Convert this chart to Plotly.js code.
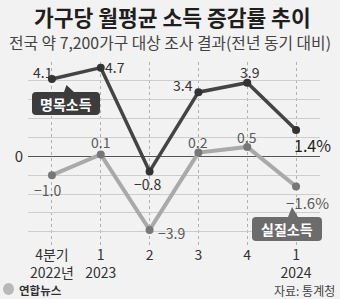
<!DOCTYPE html>
<html>
<head>
<meta charset="utf-8">
<script src="https://cdn.plot.ly/plotly-3.0.1.min.js"></script>
<style>
html,body{margin:0;padding:0;background:#f2f2f2;}
#chart{width:340px;height:299px;}
</style>
</head>
<body>
<div id="chart"></div>
<script>
// ---- data ----
const categories = ['4분기<br>2022년', '1<br>2023', '2', '3', '4', '1<br>2024'];
const xPositions = [0, 1, 2, 3, 4, 5];
const nominalIncome = [4.1, 4.7, -0.8, 3.4, 3.9, 1.4];
const realIncome = [-1.0, 0.1, -3.9, 0.2, 0.5, -1.6];
const yTickValues = [-4, -3, -2, -1, 0, 1, 2, 3, 4, 5];
const yTickLabels = ['', '', '', '', '0', '', '', '', '', ''];
const seriesNames = ['명목소득', '실질소득'];
const titleText = '가구당 월평균 소득 증감률 추이';
const subtitleText = '전국 약 7,200가구 대상 조사 결과(전년 동기 대비)';
const sourceText = '자료: 통계청';
const creditText = '연합뉴스';

// ---- layout helpers ----
const L = 28, R = 320, T = 62, B = 245;
const W = 340, H = 299;
const px = x => (x - L) / (R - L);
const py = y => (B - y) / (B - T);

function fmt(v, last) {
  const s = (v < 0 ? '\u2212' : '') + Math.abs(v).toFixed(1);
  return last ? s + '%' : s;
}

function bubble(x0, y0, x1, y1, r, pb0, tipx, tipy, pb1) {
  const P = (x, y) => px(x) + ',' + py(y);
  return 'M' + P(x0 + r, y0) +
    ' L' + P(pb0, y0) + ' L' + P(tipx, tipy) + ' L' + P(pb1, y0) +
    ' L' + P(x1 - r, y0) + ' Q' + P(x1, y0) + ' ' + P(x1, y0 + r) +
    ' L' + P(x1, y1 - r) + ' Q' + P(x1, y1) + ' ' + P(x1 - r, y1) +
    ' L' + P(x0 + r, y1) + ' Q' + P(x0, y1) + ' ' + P(x0, y1 - r) +
    ' L' + P(x0, y0 + r) + ' Q' + P(x0, y0) + ' ' + P(x0 + r, y0) + ' Z';
}

const FONT = '"Noto Sans CJK KR", "Noto Sans", sans-serif';

// label offsets (pixels) for value labels
const nomOff = [[-9, 7], [14, 1], [-2, -13], [-15, 7], [3, 11], [16, -15]];
const realOff = [[-4, -15], [0, 12], [22, -3], [0, 11], [0, 10], [11, -16]];

const annotations = [];
nominalIncome.forEach((v, i) => {
  const last = i === nominalIncome.length - 1;
  annotations.push({
    x: xPositions[i], y: v, xref: 'x', yref: 'y', text: fmt(v, last), showarrow: false,
    xanchor: 'center', yanchor: 'middle',
    xshift: nomOff[i][0], yshift: nomOff[i][1],
    font: {family: FONT, size: last ? 16 : 14, color: last ? '#1e1e1e' : '#333'}
  });
});
realIncome.forEach((v, i) => {
  const last = i === realIncome.length - 1;
  annotations.push({
    x: xPositions[i], y: v, xref: 'x', yref: 'y', text: fmt(v, last), showarrow: false,
    xanchor: 'center', yanchor: 'middle',
    xshift: realOff[i][0], yshift: realOff[i][1],
    font: {family: FONT, size: last ? 15 : 14, color: '#5a5a5a'}
  });
});
// series name labels in bubbles
annotations.push({x: px(66), y: py(103.5), xref: 'paper', yref: 'paper', xanchor: 'center', yanchor: 'middle',
  text: '<b>' + seriesNames[0] + '</b>', showarrow: false, font: {family: FONT, size: 14, color: '#ffffff'}});
annotations.push({x: px(287), y: py(229), xref: 'paper', yref: 'paper', xanchor: 'center', yanchor: 'middle',
  text: '<b>' + seriesNames[1] + '</b>', showarrow: false, font: {family: FONT, size: 14, color: '#ffffff'}});
// title & subtitle
annotations.push({x: px(172), y: py(17), xref: 'paper', yref: 'paper', xanchor: 'center', yanchor: 'middle',
  text: '<b>' + titleText + '</b>', showarrow: false, font: {family: FONT, size: 21.5, color: '#1e1e1e'}});
annotations.push({x: px(170), y: py(42), xref: 'paper', yref: 'paper', xanchor: 'center', yanchor: 'middle',
  text: subtitleText, showarrow: false, font: {family: FONT, size: 15.8, color: '#444'}});

const layout = {
  width: W, height: H,
  margin: {l: L, r: W - R, t: T, b: H - B, pad: 0},
  paper_bgcolor: '#f2f2f2', plot_bgcolor: '#f2f2f2',
  showlegend: false,
  xaxis: {
    range: [-0.49, 5.49], tickvals: xPositions, ticktext: categories,
    showgrid: true, gridcolor: '#b0b0b0', griddash: 'dot', gridwidth: 1,
    zeroline: false, showline: false, ticks: '', ticklabelstandoff: 0,
    tickfont: {family: FONT, size: 14, color: '#333'}, fixedrange: true
  },
  yaxis: {
    range: [-4.7, 5], tickvals: yTickValues, ticktext: yTickLabels,
    showgrid: true, gridcolor: '#cdcdcd', gridwidth: 1,
    zeroline: true, zerolinecolor: '#555', zerolinewidth: 1.5,
    showline: false, ticks: '', ticklabelstandoff: 4,
    tickfont: {family: FONT, size: 15, color: '#333'}, fixedrange: true
  },
  shapes: [
    {type: 'path', xref: 'paper', yref: 'paper', layer: 'above',
      path: bubble(32, 92, 100, 115, 4, 64, 66.5, 85, 74),
      fillcolor: '#3c3c3c', line: {width: 0}},
    {type: 'path', xref: 'paper', yref: 'paper', layer: 'above',
      path: bubble(252, 217, 322, 241, 4, 288, 292, 207, 298),
      fillcolor: '#6c6c6c', line: {width: 0}},
    {type: 'circle', xref: 'paper', yref: 'paper', layer: 'above',
      x0: px(3), x1: px(14), y0: py(295), y1: py(283),
      fillcolor: '#b8b8b8', line: {width: 0}}
  ],
  annotations: annotations.concat([
    {x: px(17), y: py(290), xref: 'paper', yref: 'paper', xanchor: 'left', yanchor: 'middle',
      text: '<b>' + creditText + '</b>', showarrow: false, font: {family: FONT, size: 11.5, color: '#333'}},
    {x: px(337), y: py(290.5), xref: 'paper', yref: 'paper', xanchor: 'right', yanchor: 'middle',
      text: sourceText, showarrow: false, font: {family: FONT, size: 12, color: '#444'}}
  ])
};

const data = [
  {x: xPositions, y: realIncome, name: seriesNames[1], type: 'scatter', mode: 'lines+markers',
    line: {color: '#a9a9a9', width: 4}, marker: {size: 8, color: '#777'}, cliponaxis: false,
    hoverinfo: 'skip'},
  {x: xPositions, y: nominalIncome, name: seriesNames[0], type: 'scatter', mode: 'lines+markers',
    line: {color: '#444', width: 3.5}, marker: {size: 8, color: '#333'}, cliponaxis: false,
    hoverinfo: 'skip'}
];

Plotly.newPlot('chart', data, layout, {displayModeBar: false, staticPlot: true});
</script>
</body>
</html>
